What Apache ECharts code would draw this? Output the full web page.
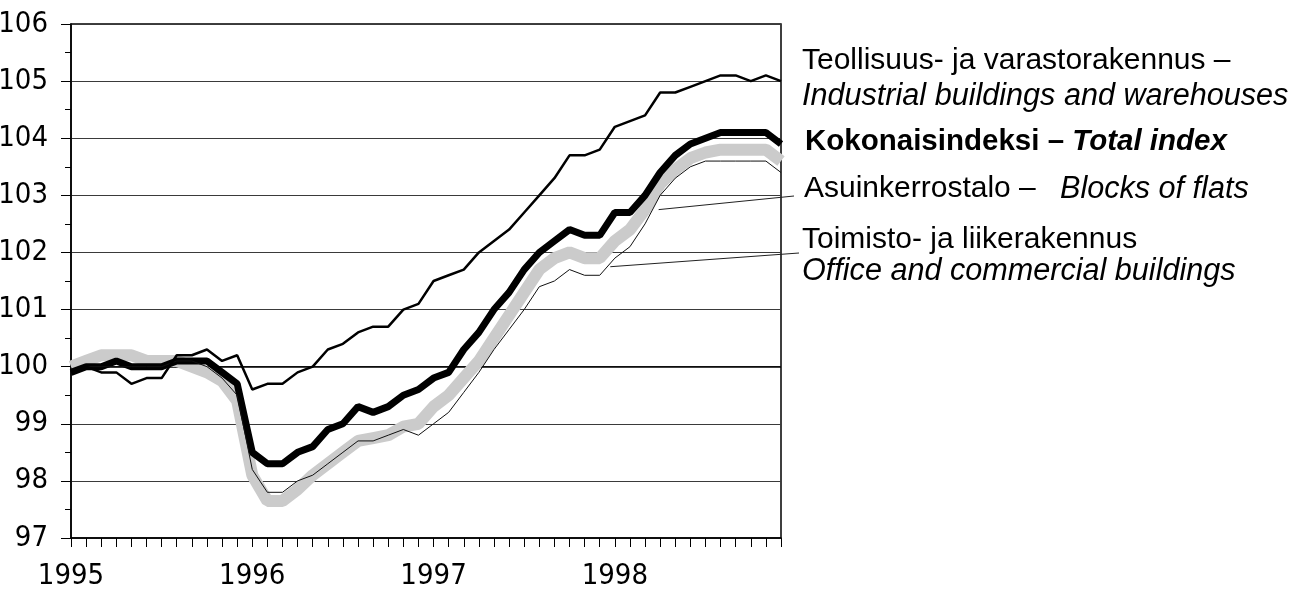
<!DOCTYPE html>
<html><head><meta charset="utf-8">
<script src="https://cdn.jsdelivr.net/npm/echarts@6/dist/echarts.min.js"></script>
<style>html,body{margin:0;padding:0;background:#fff}#c{width:1315px;height:591px}</style>
</head><body><div id="c"></div>
<script>
// ---- data ----
const years = [1995, 1996, 1997, 1998];
const monthNames = ['01','02','03','04','05','06','07','08','09','10','11','12'];
const categories = [];
years.forEach(y => monthNames.forEach(m => categories.push(y + '-' + m)));

const yTicks = [97, 98, 99, 100, 101, 102, 103, 104, 105, 106];

// Teollisuus- ja varastorakennus – Industrial buildings and warehouses
const industrial = [
  99.9, 100.0, 99.9, 99.9, 99.7, 99.8, 99.8, 100.2, 100.2, 100.3, 100.1, 100.2,
  99.6, 99.7, 99.7, 99.9, 100.0, 100.3, 100.4, 100.6, 100.7, 100.7, 101.0, 101.1,
  101.5, 101.6, 101.7, 102.0, 102.2, 102.4, 102.7, 103.0, 103.3, 103.7, 103.7, 103.8,
  104.2, 104.3, 104.4, 104.8, 104.8, 104.9, 105.0, 105.1, 105.1, 105.0, 105.1, 105.0
];
// Kokonaisindeksi – Total index
const total = [
  99.9, 100.0, 100.0, 100.1, 100.0, 100.0, 100.0, 100.1, 100.1, 100.1, 99.9, 99.7,
  98.5, 98.3, 98.3, 98.5, 98.6, 98.9, 99.0, 99.3, 99.2, 99.3, 99.5, 99.6,
  99.8, 99.9, 100.3, 100.6, 101.0, 101.3, 101.7, 102.0, 102.2, 102.4, 102.3, 102.3,
  102.7, 102.7, 103.0, 103.4, 103.7, 103.9, 104.0, 104.1, 104.1, 104.1, 104.1, 103.9
];
// Asuinkerrostalo – Blocks of flats
const flats = [
  100.0, 100.1, 100.2, 100.2, 100.2, 100.1, 100.1, 100.1, 100.0, 99.9, 99.75, 99.4,
  98.1, 97.65, 97.65, 97.85, 98.1, 98.3, 98.5, 98.7, 98.75, 98.8, 98.95, 99.0,
  99.3, 99.5, 99.8, 100.1, 100.5, 100.9, 101.3, 101.7, 101.9, 102.0, 101.9, 101.9,
  102.2, 102.4, 102.75, 103.2, 103.45, 103.65, 103.75, 103.8, 103.8, 103.8, 103.8, 103.6
];
// Toimisto- ja liikerakennus – Office and commercial buildings
const office = [
  99.9, 100.0, 100.0, 100.0, 100.0, 100.0, 100.0, 100.1, 100.1, 100.0, 99.8, 99.5,
  98.2, 97.8, 97.8, 98.0, 98.1, 98.3, 98.5, 98.7, 98.7, 98.8, 98.9, 98.8,
  99.0, 99.2, 99.55, 99.9, 100.3, 100.65, 101.0, 101.4, 101.5, 101.7, 101.6, 101.6,
  101.9, 102.1, 102.5, 103.0, 103.3, 103.5, 103.6, 103.6, 103.6, 103.6, 103.6, 103.4
];
// leader anchors (category index, value) for the annotation lines
const leaderFlats = [38.9, 102.75];
const leaderOffice = [35.7, 101.75];

// ---- chart ----
const AX_FONT = "'Liberation Sans Narrow','DejaVu Sans Condensed','Arial Narrow',sans-serif";
const TX_FONT = "'Liberation Sans',Arial,sans-serif";
const chart = echarts.init(document.getElementById('c'), null, {renderer: 'canvas'});

const option = {
  animation: false,
  backgroundColor: '#fff',
  grid: {left: 71, right: 534, top: 24, bottom: 53, containLabel: false, outerBoundsMode: 'none',
         show: true, borderColor: '#000', borderWidth: 1.5, backgroundColor: 'transparent'},
  xAxis: {
    type: 'category', data: categories, boundaryGap: false,
    axisLine: {show: true, lineStyle: {color: '#000', width: 1.5}},
    axisTick: {show: true, interval: 0, length: 9, lineStyle: {color: '#000', width: 1}},
    axisLabel: {
      interval: 11, margin: 24, fontSize: 29, fontFamily: AX_FONT, color: '#000', hideOverlap: false,
      formatter: v => v.endsWith('-01') ? v.slice(0, 4) : ''
    },
    splitLine: {show: false}
  },
  yAxis: {
    type: 'value', min: yTicks[0], max: yTicks[yTicks.length - 1], interval: 1,
    axisLine: {show: true, lineStyle: {color: '#000', width: 1.5}},
    axisTick: {show: true, length: 10, lineStyle: {color: '#000', width: 1}},
    minorTick: {show: true, splitNumber: 2, length: 6, lineStyle: {color: '#000', width: 1}},
    axisLabel: {margin: 23, fontSize: 29, fontFamily: AX_FONT, color: '#000'},
    splitLine: {show: true, lineStyle: {color: '#3a3a3a', width: 1}}
  },
  series: [
    {name: 'Blocks of flats', type: 'line', data: flats, showSymbol: false, symbol: 'none',
     lineStyle: {color: '#cbcbcb', width: 12}, z: 2},
    {name: 'Total index', type: 'line', data: total, showSymbol: false, symbol: 'none',
     lineStyle: {color: '#000', width: 7}, z: 3},
    {name: 'Office and commercial buildings', type: 'line', data: office, showSymbol: false, symbol: 'none',
     lineStyle: {color: '#111', width: 1}, z: 4},
    {name: 'Industrial buildings and warehouses', type: 'line', data: industrial, showSymbol: false, symbol: 'none',
     lineStyle: {color: '#000', width: 2.5}, z: 5,
     markLine: {silent: true, symbol: 'none', label: {show: false},
       lineStyle: {color: '#000', width: 1.6, type: 'solid'}, data: [{yAxis: 100}], z: 1}}
  ]
};
chart.setOption(option);

function px(pt) {
  const i0 = Math.floor(pt[0]), f = pt[0] - i0;
  const a = chart.convertToPixel({xAxisIndex: 0, yAxisIndex: 0}, [i0, pt[1]]);
  const b = chart.convertToPixel({xAxisIndex: 0, yAxisIndex: 0}, [i0 + 1, pt[1]]);
  return [a[0] + (b[0] - a[0]) * f, a[1]];
}
const pf = px(leaderFlats), po = px(leaderOffice);
const lx = 802;
const txt = (x, y, text, extra) => ({type: 'text', x: x, y: y, z: 100,
  style: Object.assign({text: text, fill: '#000', fontFamily: TX_FONT, fontSize: 30, verticalAlign: 'middle', align: 'left'}, extra || {})});
const IT = {fontStyle: 'italic', fontSize: 30.6};
chart.setOption({
  graphic: [
    {type: 'line', z: 50, shape: {x1: pf[0], y1: pf[1], x2: 794, y2: 196}, style: {stroke: '#222', lineWidth: 1}},
    {type: 'line', z: 50, shape: {x1: po[0], y1: po[1], x2: 799, y2: 253}, style: {stroke: '#222', lineWidth: 1}},
    txt(lx, 61, 'Teollisuus- ja varastorakennus –'),
    txt(lx, 96, 'Industrial buildings and warehouses', IT),
    {type: 'text', x: 805, y: 142, z: 100, style: {
      text: '{a|Kokonaisindeksi – }{b|Total index}', verticalAlign: 'middle', align: 'left', fill: '#000',
      rich: {a: {fontFamily: TX_FONT, fontSize: 29.5, fontWeight: 'bold', fill: '#000'},
             b: {fontFamily: TX_FONT, fontSize: 29.5, fontWeight: 'bold', fontStyle: 'italic', fill: '#000'}}}},
    txt(804, 189, 'Asuinkerrostalo –'),
    txt(1060, 189, 'Blocks of flats', IT),
    txt(lx, 240, 'Toimisto- ja liikerakennus'),
    txt(lx, 271, 'Office and commercial buildings', IT)
  ]
});
</script></body></html>
